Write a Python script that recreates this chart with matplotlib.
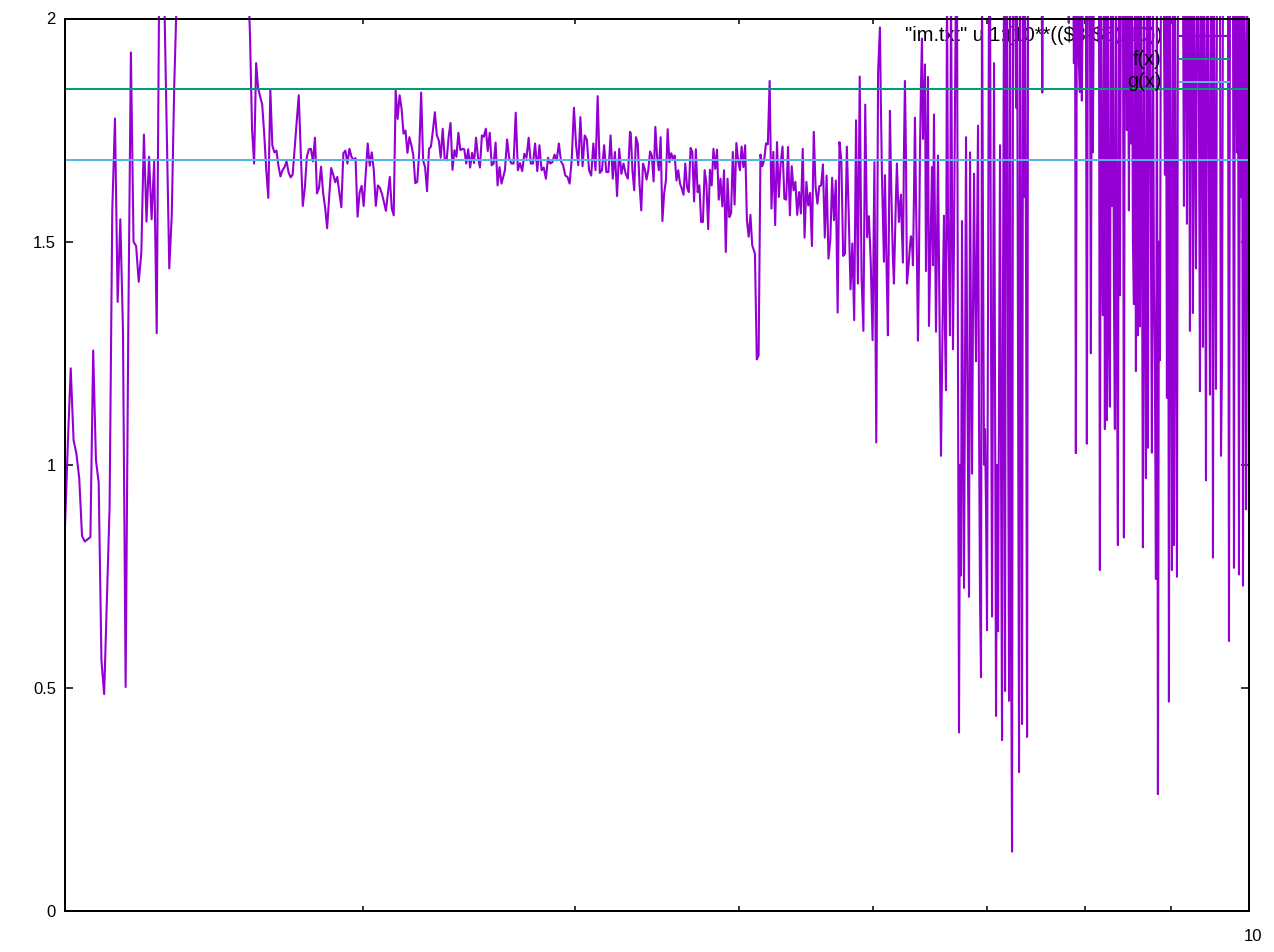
import matplotlib
matplotlib.use("Agg")
import matplotlib.pyplot as plt
from matplotlib.patches import Rectangle
from matplotlib.ticker import NullFormatter
from matplotlib.transforms import ScaledTranslation
import numpy as np

MORADO = "#9400d3"
VERDE = "#009e73"
AZUL = "#56b4e9"

F_X = 1.841
G_X = 1.684

# values, 2.2 means the curve is off the top of the axes
y_a1 = [0.86, 1.05, 1.216, 1.055, 1.025, 0.97, 0.84, 0.828, 0.833, 0.838, 1.256, 1.01, 0.96, 0.562, 0.486,
        0.70, 0.905, 1.57, 1.776, 1.365, 1.55, 1.30, 0.502, 1.30, 1.924, 1.50, 1.49, 1.41, 1.475, 1.74,
        1.545, 1.69, 1.55, 1.68, 1.295, 2.1, 2.15, 2.05, 1.75, 1.44, 1.56, 1.85, 2.05]
y_a2 = [2.2, 2.2]
y_a3 = [1.958, 1.75, 1.675, 1.90, 1.843, 1.825, 1.807, 1.74, 1.66, 1.598, 1.84, 1.715, 1.70, 1.704, 1.67,
        1.646, 1.66, 1.667, 1.68, 1.655, 1.644, 1.65, 1.71, 1.77, 1.828, 1.70, 1.58, 1.62, 1.69, 1.707,
        1.708, 1.68, 1.733, 1.608, 1.62, 1.668, 1.61, 1.577, 1.53, 1.60, 1.665, 1.65, 1.633, 1.645, 1.61,
        1.577, 1.698, 1.704, 1.675, 1.708, 1.69, 1.683, 1.687, 1.556, 1.61, 1.625, 1.58, 1.65, 1.72, 1.67,
        1.70, 1.66, 1.58, 1.626]
y_b1 = [1.62, 1.607, 1.589, 1.569, 1.607, 1.645, 1.574, 1.559, 1.839, 1.775, 1.828, 1.798, 1.742, 1.749, 1.699,
        1.734, 1.716, 1.693, 1.631, 1.634, 1.70, 1.834, 1.682, 1.667, 1.613, 1.708, 1.713, 1.749, 1.79, 1.738,
        1.727, 1.688, 1.753, 1.686, 1.682, 1.734, 1.766, 1.661, 1.705, 1.69, 1.744, 1.705, 1.708, 1.707, 1.675,
        1.707, 1.666, 1.699, 1.676, 1.733, 1.69, 1.666, 1.738, 1.735, 1.753, 1.703, 1.744, 1.671, 1.675, 1.722,
        1.626, 1.667, 1.63]
y_b2 = [1.66, 1.729, 1.686, 1.675, 1.675, 1.789, 1.66, 1.676, 1.658, 1.697, 1.688, 1.733, 1.675, 1.675, 1.72,
        1.658, 1.716, 1.66, 1.666, 1.641, 1.688, 1.675, 1.678, 1.695, 1.682, 1.72, 1.68, 1.671, 1.648, 1.645,
        1.63, 1.686, 1.80, 1.716, 1.671, 1.779, 1.669, 1.738, 1.728, 1.66, 1.648, 1.72, 1.66, 1.826, 1.654,
        1.66, 1.716, 1.656, 1.656, 1.738, 1.641, 1.701, 1.602, 1.708, 1.652, 1.675, 1.652, 1.641, 1.746]
y_c1 = [1.744, 1.66, 1.615, 1.734, 1.72, 1.63, 1.57, 1.675, 1.663, 1.639, 1.66, 1.702, 1.693, 1.635, 1.757,
        1.69, 1.66, 1.734, 1.546, 1.608, 1.637, 1.752, 1.678, 1.698, 1.686, 1.693, 1.637, 1.66, 1.63, 1.619,
        1.605, 1.675, 1.622, 1.611, 1.71, 1.701, 1.59, 1.707, 1.611, 1.626, 1.544, 1.544, 1.66, 1.63, 1.528,
        1.661, 1.626, 1.708, 1.663, 1.706, 1.594, 1.641, 1.579, 1.66, 1.477, 1.641, 1.555, 1.563, 1.701, 1.583,
        1.721, 1.682, 1.66, 1.713, 1.667, 1.716, 1.548, 1.511, 1.56, 1.492]
y_c2 = [1.473, 1.236, 1.245, 1.695, 1.669, 1.682, 1.72, 1.718, 1.86, 1.574, 1.701, 1.537, 1.723, 1.60, 1.675,
        1.713, 1.596, 1.594, 1.712, 1.559, 1.669, 1.615, 1.634, 1.56, 1.611, 1.563, 1.708, 1.509, 1.634, 1.581,
        1.609, 1.49, 1.746, 1.622, 1.585, 1.624, 1.626, 1.673, 1.509, 1.648, 1.462, 1.503, 1.643, 1.548, 1.637,
        1.341, 1.723, 1.682, 1.468, 1.473, 1.713, 1.563, 1.393, 1.496, 1.324, 1.772, 1.406, 1.87, 1.421, 1.30,
        1.807, 1.51, 1.557, 1.454, 1.279, 1.678, 1.05, 1.88]
y_d = [1.98, 1.80, 1.652, 1.55, 1.455, 1.649, 1.52, 1.40, 1.29, 1.55, 1.793, 1.66, 1.55, 1.46, 1.406,
       1.50, 1.60, 1.675, 1.60, 1.544, 1.58, 1.605, 1.52, 1.453, 1.70, 1.86, 1.697, 1.406, 1.43, 1.458,
       1.49, 1.512, 1.50, 1.447, 1.60, 1.778, 1.60, 1.458, 1.278, 1.45, 1.70, 1.85, 1.955, 1.73, 1.80,
       1.897, 1.434, 1.65, 1.869, 1.311, 1.43, 1.55, 1.667, 1.447, 1.785, 1.55, 1.298, 1.50, 1.693, 1.45,
       1.22, 1.02, 1.20, 1.40, 1.558, 1.30, 1.167, 2.1, 1.555, 1.45, 1.29, 2.1, 1.60, 1.259, 1.50,
       1.80, 2.1, 2.1, 1.20, 0.40, 1.0, 0.752, 1.546, 1.09, 0.724, 1.2, 1.734, 1.3, 0.98, 0.704,
       1.70, 1.3, 0.98, 1.35, 1.652, 1.40, 1.232, 1.5, 1.76, 1.1, 0.7, 0.524, 2.1, 1.5, 1.0,
       1.08, 0.9, 0.629, 1.4, 2.1, 2.1, 1.3, 0.66, 1.3, 1.9, 1.2, 0.437, 1.0, 0.627, 1.2,
       1.716, 1.0, 0.383, 1.4, 2.1, 0.493, 2.1, 2.1, 1.2, 0.471, 2.1, 0.652, 0.133, 2.1, 2.1,
       2.1, 1.8, 2.1, 1.2, 0.311, 2.1, 1.3, 0.419, 2.1, 1.6, 2.1, 1.4, 0.39, 2.1, 2.2, 2.2]
y_e = [2.2] * 11 + [1.834] + [2.2] * 24 + [2.2, 1.99, 2.2, 2.2, 2.2, 2.2, 1.90, 2.2]
y_f = [1.026, 2.1, 2.1, 1.9, 1.835, 2.1, 1.816, 2.1, 2.1, 2.1, 2.1, 1.047, 2.1, 2.1, 2.1,
       1.25, 2.1, 1.70, 2.1, 2.2, 2.2, 2.2, 2.2, 2.2, 0.764, 2.1, 1.5, 1.335, 2.1, 1.08,
       2.1, 1.10, 2.1, 1.3, 1.13, 2.1, 1.58, 2.1, 1.4, 1.08, 2.1, 1.3, 0.82, 2.1, 1.38,
       2.1, 2.2, 2.2, 0.837, 2.2, 2.2, 1.75, 2.1, 1.57, 2.1, 1.72, 2.1, 1.5, 1.36, 2.1,
       1.21, 2.1, 1.29, 2.1, 1.31, 2.1, 1.6, 0.815, 2.1, 1.4, 0.97, 2.1, 1.038, 2.1, 2.1,
       1.5, 1.027, 2.1, 1.4, 1.2, 0.744, 2.1, 0.262, 1.5, 1.234, 2.1, 2.1, 2.1, 2.0, 1.65,
       2.1, 1.15, 2.1, 0.469, 2.1, 1.5, 0.764, 2.1, 0.82, 2.1, 1.4, 0.749, 2.1, 2.2, 2.2,
       2.2, 2.2, 2.1, 1.58, 2.1, 2.1, 1.54, 2.2, 2.1, 1.30, 2.2, 2.1, 1.34, 2.1, 1.8,
       1.44, 2.1, 2.2, 1.8, 1.165, 2.1, 2.1, 1.264, 2.1, 1.8, 0.965, 2.1, 2.1, 1.6, 1.157,
       2.1, 2.1, 0.792, 2.1, 1.6, 1.17, 2.1, 2.1, 2.1, 2.1, 1.02, 1.22, 2.1, 2.1, 2.2,
       2.2, 2.1, 2.1, 0.605, 2.1, 2.2, 2.2, 2.1, 0.769, 2.2, 2.1, 1.7, 2.1, 0.754, 2.1,
       1.6, 2.1, 0.729, 2.1, 1.9, 0.90, 2.1, 1.76, 0.9]

# x range each stretch of readings covers
x_a1 = np.linspace(2, 2.328, len(y_a1))
x_a2 = np.array([2.34, 2.56])
x_a3 = np.geomspace(2.572, 3.06, len(y_a3))
x_b1 = np.geomspace(3.069, 3.62, len(y_b1))
x_b2 = np.geomspace(3.637, 4.311, len(y_b2))
x_c1 = np.geomspace(4.315, 5.09, len(y_c1))
x_c2 = np.geomspace(5.109, 6.04, len(y_c2))
x_d = np.geomspace(6.055, 7.426, len(y_d))
x_e = np.geomspace(7.436, 7.893, len(y_e))
x_f = np.geomspace(7.903, 10, len(y_f))

x = np.concatenate([x_a1, x_a2, x_a3, x_b1, x_b2, x_c1, x_c2, x_d, x_e, x_f])
y = np.concatenate([y_a1, y_a2, y_a3, y_b1, y_b2, y_c1, y_c2, y_d, y_e, y_f])

plt.rcParams["font.family"] = ["Liberation Sans", "DejaVu Sans"]
fig = plt.figure(figsize=(12.74, 9.52), dpi=100)
ax = fig.add_axes([65 / 1274, 1 - 911 / 952, 1184 / 1274, 892.5 / 952])

# gnuplot draws each key entry right before its curve, so the first label sits under the purple
ax.text(0.9265, 0.9804, '"im.txt" u 1:(10**(($3-$5)/10))', transform=ax.transAxes, parse_math=False,
        ha="right", va="center", fontsize=14.4, color="black", zorder=1)
ax.plot([0.9417, 0.9815], [0.9804, 0.9804], transform=ax.transAxes, color=MORADO, lw=1.5, zorder=1)

linea, = ax.plot(x, y, color=MORADO, lw=1.5, solid_joinstyle="round", zorder=2)
linea.set_clip_path(Rectangle((0, 0), 1, 1.0028, transform=ax.transAxes))

ax.text(0.9265, 0.9546, "f(x)", transform=ax.transAxes, ha="right", va="center", fontsize=14.4, zorder=3)
ax.axhline(F_X, color=VERDE, lw=1.44, zorder=4)
ax.plot([0.9417, 0.9831], [0.9546, 0.9546], transform=ax.transAxes, color=VERDE, lw=1.44, zorder=4)

ax.text(0.9265, 0.9289, "g(x)", transform=ax.transAxes, ha="right", va="center", fontsize=14.4, zorder=5)
ax.axhline(G_X, color=AZUL, lw=1.44, zorder=6)
ax.plot([0.9417, 0.9831], [0.9289, 0.9289], transform=ax.transAxes, color=AZUL, lw=1.44, zorder=6)

ax.set_xscale("log")
ax.set_xlim(2, 10)
ax.set_ylim(0, 2)
ax.set_xticks([10], ["10"])
ax.set_xticks([3, 4, 5, 6, 7, 8, 9], minor=True)
ax.xaxis.set_minor_formatter(NullFormatter())
ax.set_yticks([0, 0.5, 1, 1.5, 2], ["0", "0.5", "1", "1.5", "2"])
ax.tick_params(which="major", direction="in", top=True, right=True, length=5.8, width=1.1,
               labelsize=12, pad=6.5)
ax.tick_params(axis="x", which="major", pad=13)
ax.tick_params(which="minor", direction="in", top=True, bottom=True, length=3.6, width=1.1)

for lab in ax.get_xticklabels():
    lab.set_transform(lab.get_transform() + ScaledTranslation(4 / 100, 0, fig.dpi_scale_trans))

for s in ax.spines.values():
    s.set_linewidth(1.44)
    s.set_zorder(10)

fig.savefig("out.png", dpi=100)
